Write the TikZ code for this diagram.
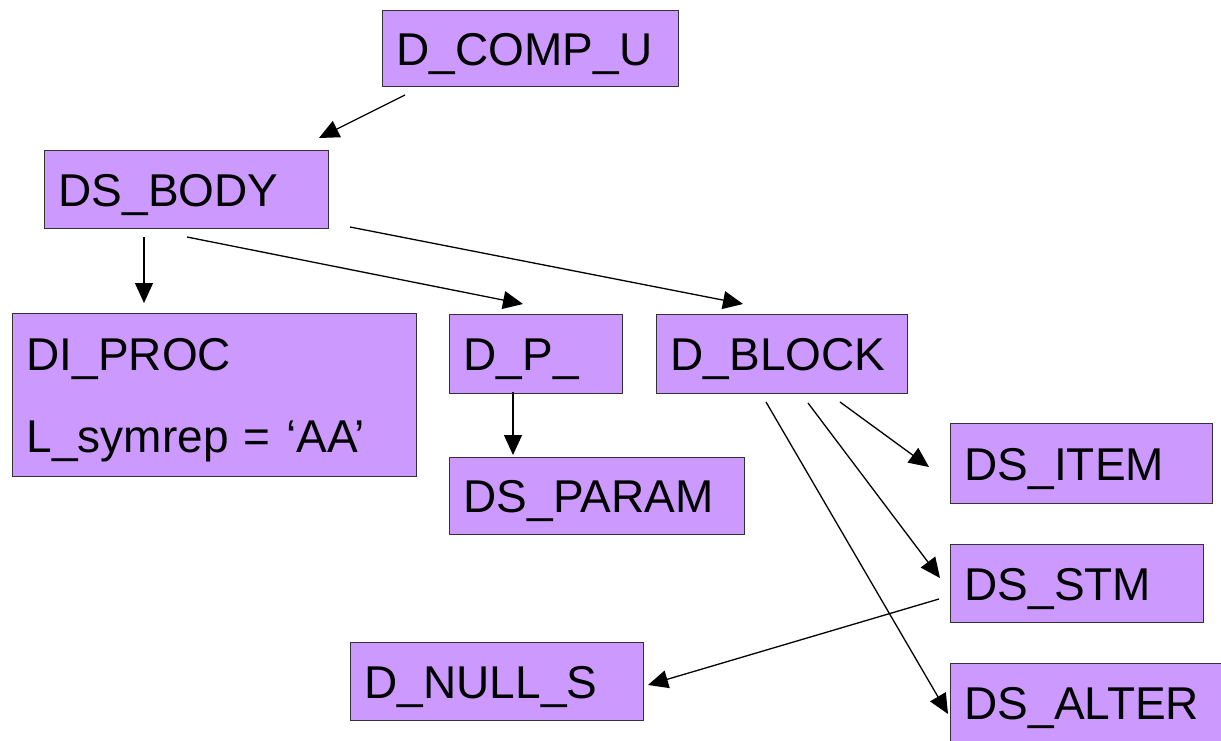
\documentclass[tikz,border=0pt]{standalone}
\usepackage{fontspec}
\setmainfont{Liberation Sans}
\usetikzlibrary{arrows.meta}
\definecolor{boxfill}{HTML}{CC99FF}
\definecolor{boxline}{HTML}{333333}
\tikzset{
  box/.style={draw=boxline, line width=1.4pt, fill=boxfill, anchor=north west,
    inner xsep=14pt, inner ysep=0pt, align=left,
    font=\fontsize{46}{55}\selectfont, text height=32.9pt, text depth=0pt},
  boxsize/.style 2 args={minimum width=#1pt, minimum height=#2pt, text width=#1pt-28pt},
  link/.style={line width=1.3pt, -{Triangle[length=20pt,width=18pt]}}
}
\begin{document}
\begin{tikzpicture}[x=1pt,y=-1pt]
\useasboundingbox (0,0) rectangle (1221,741);

% boxes
\node[box, boxsize={296}{76}] (comp) at (382,10) {D\_COMP\_U};
\node[box, boxsize={284}{78}] (body) at (44,150) {DS\_BODY};
\node[box, boxsize={404}{163}, text depth=82pt] (proc) at (12,313)
  {DI\_PROC\\[27pt]L\_symrep = ‘AA’};
\node[box, boxsize={173}{79}] (dp) at (449,314) {D\_P\_};
\node[box, boxsize={251}{79}] (block) at (656,314) {D\_BLOCK};
\node[box, boxsize={262}{80}] (item) at (950,423) {DS\_ITEM};
\node[box, boxsize={295}{77}] (param) at (449,457) {DS\_PARAM};
\node[box, boxsize={253}{78}] (stm) at (950,544) {DS\_STM};
\node[box, boxsize={293}{78}] (null) at (350,642) {D\_NULL\_S};
\node[box, boxsize={280}{78}] (alter) at (950,663) {DS\_ALTER};

% free connector ends
\coordinate (compS) at (405,95);
\coordinate (bodyN) at (319,138);
\coordinate (bodyS1) at (144,237);
\coordinate (procN) at (144,303);
\coordinate (bodyS2) at (187,237);
\coordinate (dpN) at (523,304);
\coordinate (bodyS3) at (350,227);
\coordinate (blockN) at (743,304);
\coordinate (dpS) at (513,392);
\coordinate (paramN) at (513,455);
\coordinate (blockS1) at (840,402);
\coordinate (itemW) at (929,467);
\coordinate (blockS2) at (808,403);
\coordinate (stmW) at (940,578);
\coordinate (blockS3) at (766,402);
\coordinate (alterW) at (948,714);
\coordinate (stmW2) at (939,599);
\coordinate (nullE) at (648,685);

% connectors
\draw[link] (compS) -- (bodyN);
\draw[link] (bodyS1) -- (procN);
\draw[link] (bodyS2) -- (dpN);
\draw[link] (bodyS3) -- (blockN);
\draw[link] (dpS) -- (paramN);
\draw[link] (blockS1) -- (itemW);
\draw[link] (blockS2) -- (stmW);
\draw[link] (blockS3) -- (alterW);
\draw[link] (stmW2) -- (nullE);
\end{tikzpicture}
\end{document}
